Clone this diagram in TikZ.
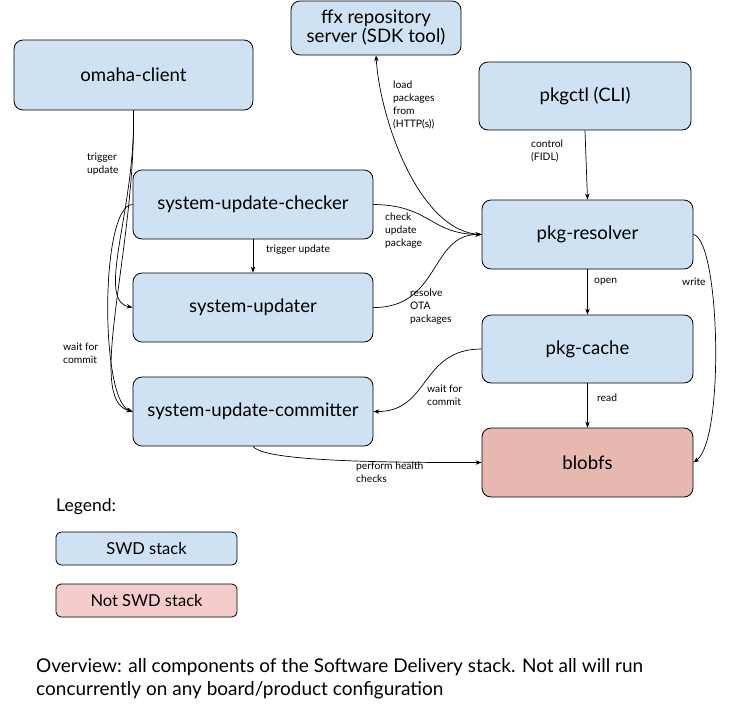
\documentclass[tikz,border=0pt]{standalone}
\usepackage{fontspec}
\setmainfont{Lato}
\usetikzlibrary{arrows.meta}
\definecolor{swdblue}{HTML}{CFE2F3}
\definecolor{blobred}{HTML}{E6B8AF}
\definecolor{notswd}{HTML}{F4CCCC}
\tikzset{
  box/.style={draw=black, line width=0.8pt, rounded corners=9pt, fill=swdblue, align=center, font=\fontsize{18.6}{21}\selectfont, inner sep=2pt},
  legbox/.style={draw=black, line width=0.8pt, rounded corners=5pt, fill=swdblue, minimum width=181pt, minimum height=33pt, font=\fontsize{16.5}{19}\selectfont},
  lbl/.style={anchor=north west, align=left, inner sep=0pt, font=\fontsize{10.3}{13}\selectfont},
  conn/.style={draw=black, line width=0.7pt, -{Stealth[length=6pt,width=4.5pt]}},
}
\begin{document}
\begin{tikzpicture}[x=1pt,y=-1pt]
\useasboundingbox (0,0) rectangle (740,713);
% nodes
\node[box, minimum width=170pt, minimum height=54pt] (ffx) at (376,28) {ffx repository\\[-2pt]server (SDK tool)};
\node[box, minimum width=239pt, minimum height=70pt] (omaha) at (133.5,75) {omaha-client};
\node[box, minimum width=212pt, minimum height=68pt] (pkgctl) at (585,96) {pkgctl (CLI)};
\node[box, minimum width=240pt, minimum height=69pt] (checker) at (253,204.5) {system-update-checker};
\node[box, minimum width=211pt, minimum height=69pt] (resolver) at (587.5,234.5) {pkg-resolver};
\node[box, minimum width=240pt, minimum height=69pt] (updater) at (253,307.5) {system-updater};
\node[box, minimum width=211pt, minimum height=68pt] (cache) at (587.5,349) {pkg-cache};
\node[box, minimum width=240pt, minimum height=69pt] (committer) at (253,411.5) {system-update-committer};
\node[box, fill=blobred, minimum width=211pt, minimum height=69pt] (blobfs) at (587.5,462.5) {blobfs};
% legend
\node[anchor=west, inner sep=0pt, font=\fontsize{17.5}{19}\selectfont] (legend) at (56,507) {Legend:};
\node[legbox] (swd) at (146.5,548.5) {SWD stack};
\node[legbox, fill=notswd] (nswd) at (146.5,600.5) {Not SWD stack};
\node[anchor=north west, align=left, inner sep=0pt, font=\fontsize{19}{23}\selectfont] (overview) at (36,658) {Overview: all components of the Software Delivery stack. Not all will run\\concurrently on any board/product configuration};
% connectors
\draw[conn] (omaha.south) .. controls (136,210) and (95,300) .. (updater.west);
\draw[conn] (omaha.south) .. controls (136,250) and (85,400) .. (committer.west);
\draw[conn] (checker.west) .. controls (100,205) and (100,400) .. (committer.west);
\draw[conn] (checker.south) -- (updater.north);
\draw[conn] (resolver.west) .. controls (420,234) and (380,120) .. (ffx.south);
\draw[conn] (checker.east) .. controls (430,205) and (430,234) .. (resolver.west);
\draw[conn] (updater.east) .. controls (440,308) and (430,234) .. (resolver.west);
\draw[conn] (pkgctl.south) -- (resolver.north);
\draw[conn] (resolver.south) -- (cache.north);
\draw[conn] (cache.south) -- (blobfs.north);
\draw[conn] (resolver.east) .. controls (720,240) and (725,440) .. (blobfs.east);
\draw[conn] (cache.west) .. controls (420,349) and (430,412) .. (committer.east);
\draw[conn] (committer.south) .. controls (260,455) and (300,463) .. (blobfs.west);
% labels
\node[lbl] (l1) at (87,153) {trigger\\update};
\node[lbl] (l2) at (63,343) {wait for\\commit};
\node[lbl] (l3) at (266,245) {trigger update};
\node[lbl] (l4) at (393,81) {load\\packages\\from\\(HTTP(s))};
\node[lbl] (l5) at (385,213) {check\\update\\package};
\node[lbl] (l6) at (410,289) {resolve\\OTA\\packages};
\node[lbl] (l7) at (531,140) {control\\(FIDL)};
\node[lbl] (l8) at (594,278) {open};
\node[lbl] (l9) at (682,278) {write};
\node[lbl] (l10) at (597,394) {read};
\node[lbl] (l11) at (427,385) {wait for\\commit};
\node[lbl] (l12) at (356,462) {perform health\\checks};
\end{tikzpicture}
\end{document}
